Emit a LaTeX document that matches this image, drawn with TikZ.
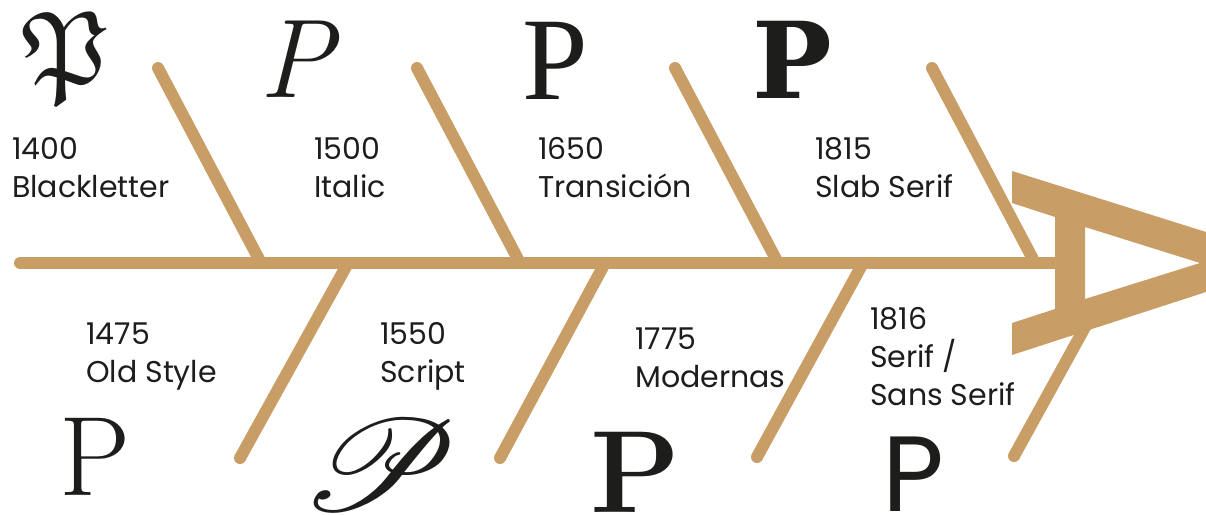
\documentclass[tikz,border=0pt]{standalone}
\usepackage{amssymb}
\usepackage{mathrsfs}
\usepackage{fontspec}
\setsansfont{Poppins}
\newfontfamily\slabfont{DejaVu Serif}
\newfontfamily\transfont{Liberation Serif}
\definecolor{tan}{HTML}{C99E66}
\definecolor{ink}{HTML}{1D1D1B}
\tikzset{
  bone/.style={draw=tan, line width=12pt},
  lbl/.style={font=\sffamily\fontsize{30}{38}\selectfont, text=ink, inner sep=0pt, align=left, anchor=base west},
  glyph/.style={text=ink, inner sep=0pt, anchor=center},
}
\begin{document}
\begin{tikzpicture}[x=1pt,y=-1pt]
\useasboundingbox (0,0) rectangle (1206,514);
% coordinates
\coordinate (s0) at (20,263);
\coordinate (s1) at (1056,263);
\coordinate (u1t) at (158,68);  \coordinate (u1b) at (261,263);
\coordinate (u2t) at (417,68);  \coordinate (u2b) at (520,263);
\coordinate (u3t) at (675,68);  \coordinate (u3b) at (778,263);
\coordinate (u4t) at (932,68);  \coordinate (u4b) at (1035,263);
\coordinate (l1t) at (348,263); \coordinate (l1b) at (240,458);
\coordinate (l2t) at (605,263); \coordinate (l2b) at (500,458);
\coordinate (l3t) at (863,263); \coordinate (l3b) at (757,457);
\coordinate (l4t) at (1090,318); \coordinate (l4b) at (1014,456);
% branches
\foreach \b in {u1,u2,u3,u4}{
  \draw[bone] (\b t) -- (\b b);
  \fill[tan] (\b t) circle (6pt);
}
\foreach \b in {l1,l2,l3,l4}{
  \draw[bone] (\b t) -- (\b b);
  \fill[tan] (\b b) circle (6pt);
}
% spine
\draw[bone] (s0) -- (s1);
\fill[tan] (s0) circle (6pt);
% big A
\fill[tan, even odd rule]
  (1012,171) -- (1206,232) -- (1206,292) -- (1012,355) -- (1012,323) -- (1055,309) -- (1055,217) -- (1012,203) -- cycle
  (1085,227) -- (1200,263) -- (1085,299) -- cycle;
% labels (anchor at baseline of last line)
\node[lbl] (t1400) at (12,197) {1400\\Blackletter};
\node[lbl] (t1500) at (314,197) {1500\\Italic};
\node[lbl] (t1650) at (538,197) {1650\\Transición};
\node[lbl] (t1815) at (815,197) {1815\\Slab Serif};
\node[lbl] (t1475) at (86,382) {1475\\Old Style};
\node[lbl] (t1550) at (380,382) {1550\\Script};
\node[lbl] (t1775) at (635,387) {1775\\Modernas};
\node[lbl] (t1816) at (870,405) {1816\\Serif /\\Sans Serif};
% glyphs
\node[glyph, scale=10.5] (gBlack) at (66,58) {$\mathfrak{P}$};
\node[glyph, font=\fontsize{112}{112}\selectfont\itshape] (gItal) at (297,59) {P};
\node[glyph, font=\transfont\fontsize{118}{118}\selectfont] (gTrans) at (555,61) {P};
\node[glyph, font=\slabfont\bfseries\fontsize{106}{106}\selectfont] (gSlab) at (792,60) {P};
\node[glyph, font=\fontsize{113}{113}\selectfont] (gOld) at (95,457) {P};
\node[glyph, xscale=14.5, yscale=13] (gScript) at (380,465) {$\mathscr{P}$};
\node[glyph, font=\bfseries\fontsize{117}{117}\selectfont] (gMod) at (635,472) {P};
\node[glyph, font=\sffamily\fontsize{107}{107}\selectfont] (gSans) at (913,474) {P};
\end{tikzpicture}
\end{document}
